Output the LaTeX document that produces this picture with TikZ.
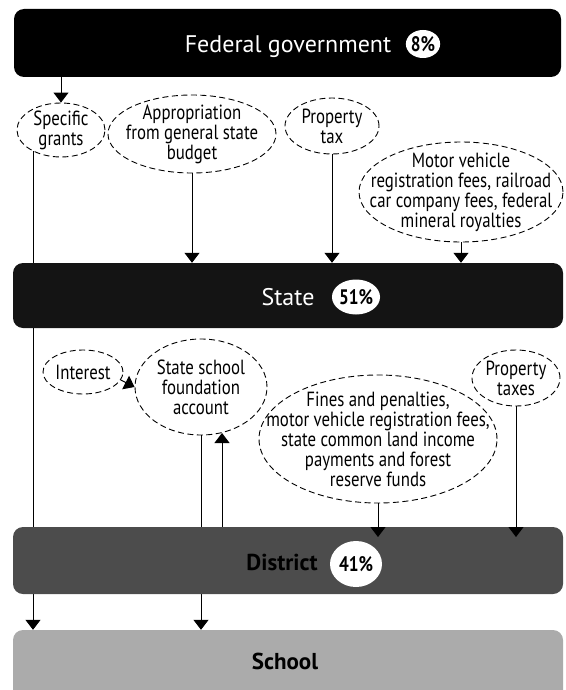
\documentclass[tikz,border=0pt]{standalone}
\usepackage{fontspec}
\setmainfont{PT Sans}
\newfontfamily\narrowfont{PT Sans}[FakeStretch=0.82]
\usetikzlibrary{shapes.geometric,arrows.meta,backgrounds}

\begin{document}
\begin{tikzpicture}[x=1pt,y=-1pt,
  band/.style={rectangle, rounded corners=10pt, minimum width=550pt, inner sep=0pt},
  bandlabel/.style={anchor=base, inner sep=0pt, font=\fontsize{24}{24}\selectfont},
  boldlabel/.style={anchor=base, inner sep=0pt, font=\bfseries\fontsize{23}{23}\selectfont},
  bubble/.style={ellipse, draw=black, dash pattern=on 6pt off 3.5pt, line width=0.9pt, inner sep=0pt},
  btext/.style={align=center, inner sep=0pt, font=\narrowfont\fontsize{20.5}{20}\selectfont},
  pct/.style={ellipse, fill=white, inner sep=0pt, font=\narrowfont\bfseries\fontsize{21}{21}\selectfont},
  flow/.style={line width=1pt, -{Triangle[length=10pt,width=15pt]}}
]
\useasboundingbox (0,0) rectangle (565,690);

% funding levels
\node[band, fill=black, minimum width=547pt, minimum height=68pt] (fed) at (287.5,43) {};
\node[band, fill=black!92, minimum height=65pt] (state) at (288,295.5) {};
\node[band, fill=black!70, minimum height=67pt] (district) at (288,560.5) {};
\node[band, fill=black!33, minimum height=72pt] (school) at (288,666) {};

\node[bandlabel, text=white] (fedtext) at (288,53) {Federal government};
\node[pct, minimum width=32pt, minimum height=28pt] (fedpct) at (423,44) {8\%};
\node[bandlabel, text=white] (statetext) at (288,305) {State};
\node[pct, minimum width=42pt, minimum height=35pt] (statepct) at (356,297) {51\%};
\node[boldlabel, text=black] (districttext) at (282,570) {District};
\node[pct, minimum width=52pt, minimum height=46pt] (districtpct) at (356,564) {41\%};
\node[boldlabel] (schooltext) at (285,669) {School};

% revenue sources
\node[bubble, minimum width=88pt, minimum height=54pt,
  label={[btext]center:{Specific\\grants}}] (spec) at (61,130) {};
\node[bubble, minimum width=168pt, minimum height=78pt,
  label={[btext]center:{Appropriation\\from general state\\budget}}] (approp) at (192,134) {};
\node[bubble, minimum width=94pt, minimum height=56pt,
  label={[btext]center:{Property\\tax}}] (ptax) at (332,126) {};
\node[bubble, minimum width=204pt, minimum height=100pt,
  label={[btext]center:{Motor vehicle\\registration fees, railroad\\car company fees, federal\\mineral royalties}}] (motor) at (461,192) {};
\node[bubble, minimum width=80pt, minimum height=44pt,
  label={[btext]center:{Interest}}] (interest) at (83,372) {};
\node[bubble, minimum width=132pt, minimum height=96pt,
  label={[btext]center:{State school\\foundation\\account}}] (sfa) at (201,387) {};
\node[bubble, minimum width=238pt, minimum height=128pt,
  label={[btext]center:{Fines and penalties,\\motor vehicle registration fees,\\state common land income\\payments and forest\\reserve funds}}] (fines) at (378,439) {};
\node[bubble, minimum width=88pt, minimum height=56pt,
  label={[btext]center:{Property\\taxes}}] (ptaxes) at (516,378) {};

% flows that pass behind the level bands
\begin{scope}[on background layer]
  \coordinate (specOut) at (33,151);
  \draw[flow] (specOut) -- (specOut |- school.north);
  \draw[flow] (sfa.south) -- (sfa.south |- school.north);
\end{scope}

% flows into the levels
\draw[flow] (spec.north |- fed.south) -- (spec.north);
\draw[flow] (approp.south) -- (approp.south |- state.north);
\draw[flow] (ptax.south) -- (ptax.south |- state.north);
\draw[flow] (motor.south) -- (motor.south |- state.north);
\draw[flow] (interest.-12) -- (sfa.west);
\coordinate (sfaIn) at (222,433);
\draw[flow] (sfaIn |- district.north) -- (sfaIn);
\coordinate (districtIn) at (0,537);
\draw[flow] (fines.south) -- (fines.south |- districtIn);
\draw[flow] (ptaxes.south) -- (ptaxes.south |- districtIn);
\end{tikzpicture}
\end{document}
